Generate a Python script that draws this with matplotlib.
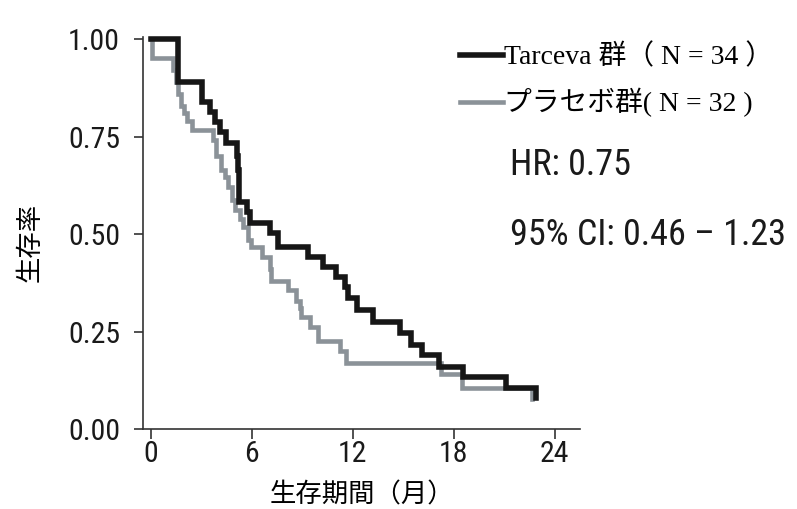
import matplotlib
matplotlib.use("Agg")
import matplotlib.pyplot as plt

# ---- data ----
tarceva_t = [0, 1.64, 3.02, 3.52, 3.81, 4.11, 4.50, 5.12, 5.17, 5.22, 5.27, 5.69, 5.89,
             7.07, 7.55, 9.33, 10.21, 11.03, 11.52, 11.70, 12.23, 13.20, 14.78, 15.47,
             16.14, 17.15, 18.53, 21.10, 22.88]
tarceva_s = [1.0, 0.891, 0.840, 0.814, 0.789, 0.763, 0.733, 0.700, 0.665, 0.625, 0.583,
             0.558, 0.528, 0.503, 0.468, 0.443, 0.417, 0.391, 0.366, 0.337, 0.306, 0.276,
             0.247, 0.216, 0.190, 0.160, 0.135, 0.105, 0.079]
placebo_t = [0, 0.06, 1.32, 1.50, 1.62, 1.80, 1.98, 2.15, 2.45, 3.69, 3.87, 4.20, 4.40,
             4.58, 4.80, 5.00, 5.30, 5.47, 5.77, 5.98, 6.60, 7.07, 7.15, 8.16, 8.65, 8.85,
             8.95, 9.44, 9.92, 11.22, 11.62, 17.25, 18.50, 22.66]
placebo_s = [1.0, 0.952, 0.920, 0.890, 0.860, 0.830, 0.810, 0.790, 0.768, 0.742, 0.700,
             0.665, 0.648, 0.622, 0.588, 0.562, 0.540, 0.519, 0.485, 0.468, 0.443, 0.410,
             0.380, 0.356, 0.330, 0.310, 0.287, 0.261, 0.227, 0.200, 0.171, 0.141, 0.106,
             0.077]
series_labels = ["Tarceva 群（ N = 34 ）", "プラセボ群( N = 32 )"]
x_ticks = [0, 6, 12, 18, 24]
y_ticks = [0.00, 0.25, 0.50, 0.75, 1.00]
x_label = "生存期間（月）"
y_label = "生存率"
hr_text = "HR: 0.75"
ci_text = "95% CI: 0.46 – 1.23"

# ---- fonts ----
narrow = "Roboto Condensed"
cjk = "Noto Sans CJK JP"
serif_cjk = ["Liberation Serif", cjk]

fig = plt.figure(figsize=(7.97, 5.09), dpi=100)
ax = fig.add_axes([143 / 797, (509 - 429.3) / 509, 437 / 797, 392 / 509])
ax.set_xlim(-0.46, 25.5)
ax.set_ylim(0, 1.005)

c_black = "#161616"
c_grey = "#8b9298"
ax.step(placebo_t, placebo_s, where="post", color=c_grey, lw=3.3,
        solid_joinstyle="miter", solid_capstyle="projecting", clip_on=False,
        label=series_labels[1], zorder=2)
ax.step(tarceva_t, tarceva_s, where="post", color=c_black, lw=4.0,
        solid_joinstyle="miter", solid_capstyle="projecting", clip_on=False,
        label=series_labels[0], zorder=3)

for s in ["top", "right"]:
    ax.spines[s].set_visible(False)
for s in ["left", "bottom"]:
    ax.spines[s].set_color("#333333")
    ax.spines[s].set_linewidth(1.2)

ax.set_xticks(x_ticks)
ax.set_yticks(y_ticks)
ax.set_yticklabels([f"{v:.2f}" for v in y_ticks])
ax.tick_params(axis="y", length=6.5, width=1.2, pad=10, colors="#333333",
               labelcolor="#1a1a1a")
ax.tick_params(axis="x", length=7.2, width=1.2, pad=0.5, colors="#333333",
               labelcolor="#1a1a1a")
for lab in ax.get_xticklabels() + ax.get_yticklabels():
    lab.set_family(narrow)
    lab.set_fontsize(21.5)

ax.set_xlabel(x_label, family=[cjk], fontsize=19, va="baseline")
ax.xaxis.set_label_coords(0.501, (429.3 - 502) / 392)
ax.set_ylabel(y_label, family=[cjk], fontsize=19, va="baseline")
ax.yaxis.set_label_coords((38 - 143) / 437, (429.3 - 242.5) / 392)

handles, labels = ax.get_legend_handles_labels()
order = [1, 0]
leg = ax.legend([handles[i] for i in order], [labels[i] for i in order],
                loc="upper left", bbox_to_anchor=(460 / 797, 1 - 44 / 509),
                bbox_transform=fig.transFigure, frameon=False,
                prop={"family": serif_cjk, "size": 20},
                handlelength=1.55, handletextpad=0.05, borderpad=0, borderaxespad=0,
                labelspacing=0.63)

fig.text(510 / 797, (509 - 175) / 509, hr_text, family=narrow, fontsize=26,
         color="#1a1a1a", va="baseline", ha="left")
fig.text(510 / 797, (509 - 245) / 509, ci_text, family=narrow, fontsize=26,
         color="#1a1a1a", va="baseline", ha="left")

fig.savefig("out.png", dpi=100)
